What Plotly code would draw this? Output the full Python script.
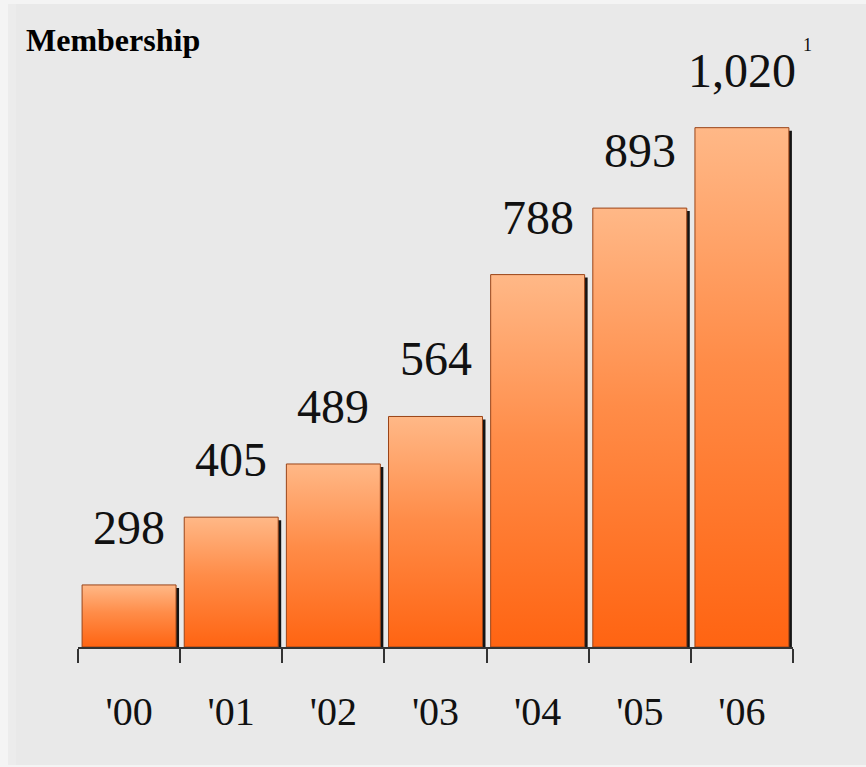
import plotly.graph_objects as go

# Membership by year
years = ["'00", "'01", "'02", "'03", "'04", "'05", "'06"]
members = [298, 405, 489, 564, 788, 893, 1020]
value_labels = ["298", "405", "489", "564", "788", "893", "1,020"]
footnote_mark = "1"

W, H = 866, 767
ML, MR, MT, MB = 78, 73, 77, 120
Y0, Y1 = 200, 1100
PW, PH = W - ML - MR, H - MT - MB
px_per_unit = PH / (Y1 - Y0)

idx = list(range(len(years)))
half = 0.46
serif = "Liberation Serif, Times New Roman, serif"

fig = go.Figure()

# drop shadow behind each bar (offset a few pixels right and down)
dx = 3 / (PW / len(years))
dy = 3 / px_per_unit
fig.add_trace(go.Bar(
    x=[i + dx for i in idx],
    y=[v - Y0 - dy for v in members],
    base=Y0,
    width=2 * half,
    marker=dict(color="#141414", line=dict(width=0)),
    hoverinfo="skip",
    showlegend=False,
))

# gradient-filled bars
for i, v in zip(idx, members):
    fig.add_trace(go.Scatter(
        x=[i - half, i - half, i + half, i + half, i - half],
        y=[Y0, v, v, Y0, Y0],
        mode="lines",
        fill="toself",
        fillgradient=dict(type="vertical",
                          colorscale=[[0, "#ff6412"], [0.55, "#ff8c48"], [1, "#ffb887"]]),
        line=dict(color="#9a4418", width=1),
        hoverinfo="skip",
        showlegend=False,
    ))

annotations = []
for i, v, t in zip(idx, members, value_labels):
    annotations.append(dict(
        x=i, y=v, xref="x", yref="y", text=t, showarrow=False,
        xanchor="center", yanchor="bottom", yshift=29,
        font=dict(family=serif, size=48, color="#111111"),
    ))
annotations.append(dict(
    x=idx[-1], y=members[-1], xref="x", yref="y", text=footnote_mark, showarrow=False,
    xanchor="left", yanchor="bottom", xshift=59, yshift=71,
    font=dict(family=serif, size=18, color="#111111"),
))
annotations.append(dict(
    x=(24 - ML) / PW, y=(H - MB - 40) / PH, xref="paper", yref="paper",
    text="<b>Membership</b>", showarrow=False, xanchor="left", yanchor="middle",
    font=dict(family=serif, size=32, color="#000000"),
))


def px_x(p):
    return (p - ML) / PW


def px_y(p):
    return (H - MB - p) / PH


fig.update_layout(
    width=W, height=H,
    margin=dict(l=ML, r=MR, t=MT, b=MB),
    paper_bgcolor="#f4f4f4",
    plot_bgcolor="rgba(0,0,0,0)",
    showlegend=False,
    annotations=annotations,
    shapes=[
        dict(type="rect", xref="paper", yref="paper", layer="below",
             x0=px_x(8), x1=px_x(W + 2), y0=px_y(H - 2), y1=px_y(4),
             fillcolor="#ececec", line=dict(width=0)),
        dict(type="rect", xref="paper", yref="paper", layer="below",
             x0=px_x(16), x1=px_x(W + 2), y0=px_y(H - 2), y1=px_y(4),
             fillcolor="#e9e9e9", line=dict(width=0)),
    ],
    xaxis=dict(
        range=[-0.5, len(years) - 0.5],
        tickmode="array", tickvals=idx, ticktext=years,
        ticks="", showgrid=False, zeroline=False,
        showline=True, linecolor="#333333", linewidth=1.5,
        tickfont=dict(family=serif, size=40, color="#111111"),
        ticklabelstandoff=28,
        minor=dict(
            tickmode="array",
            tickvals=[i - 0.5 for i in idx] + [idx[-1] + 0.5],
            ticks="outside", ticklen=14, tickwidth=1.5, tickcolor="#333333",
            showgrid=False,
        ),
        fixedrange=True,
    ),
    yaxis=dict(range=[Y0, Y1], visible=False, fixedrange=True),
)

fig.write_html("out.html")
